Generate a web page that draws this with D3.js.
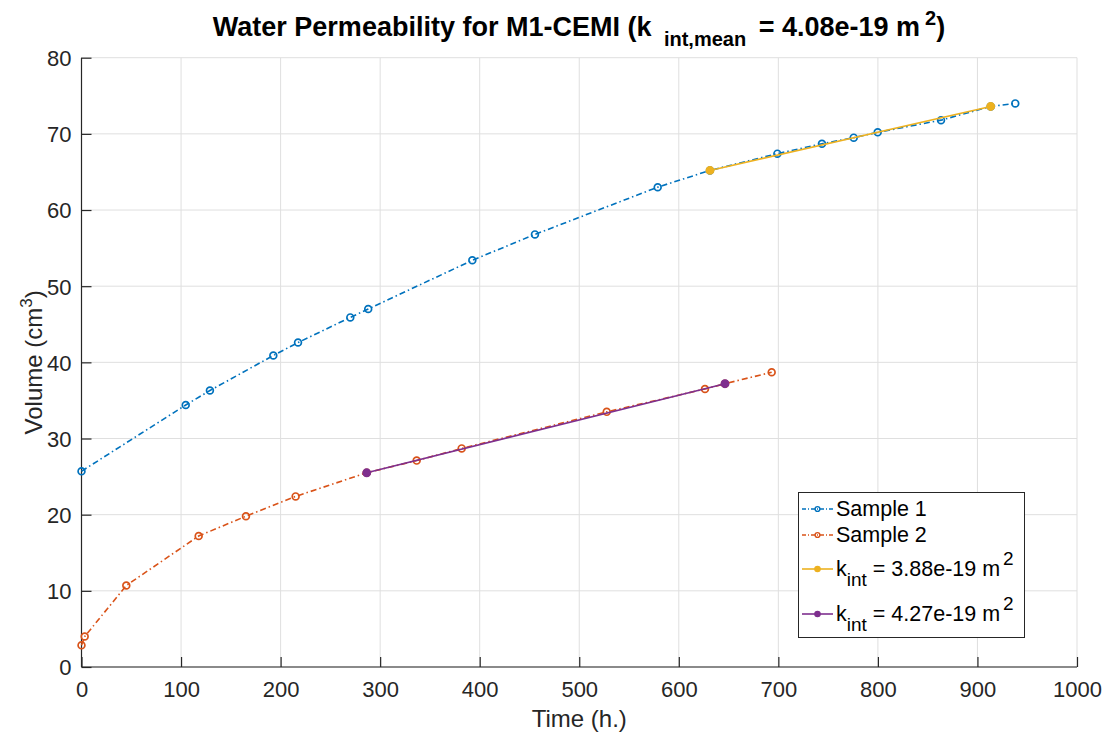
<!DOCTYPE html>
<html><head><meta charset="utf-8">
<script src="https://cdn.jsdelivr.net/npm/d3@7"></script>
<style>body{margin:0;background:#fff;}svg{display:block;font-family:"Liberation Sans",Arial,sans-serif;}</style>
</head><body>
<svg id="c" width="1112" height="738"></svg>
<script>
const s1Time = [0,104.7,129,192.7,217.5,270,288,392.6,455.5,578.8,631.3,699,743.8,775.7,799.8,863.4,913.3,938];
const s1Vol  = [25.7,34.4,36.3,40.9,42.6,45.9,47.0,53.4,56.8,63.0,65.2,67.4,68.7,69.5,70.2,71.8,73.6,74.0];
const s2Time = [0,3.2,45,117.7,165.2,215.1,286.5,336.7,381.9,527.6,626.3,646.4,693.3];
const s2Vol  = [2.85,4.0,10.7,17.2,19.8,22.4,25.5,27.1,28.7,33.5,36.5,37.2,38.7];
const fit1Time = [631.3,913.3];
const fit1Vol  = [65.2,73.6];
const fit2Time = [286.5,646.4];
const fit2Vol  = [25.5,37.2];
const xTicks = [0,100,200,300,400,500,600,700,800,900,1000];
const yTicks = [0,10,20,30,40,50,60,70,80];

const svg = d3.select("#c");
const L=81.5, R=1077, T=57.7, B=667;
const x = d3.scaleLinear().domain([0,1000]).range([L,R]);
const y = d3.scaleLinear().domain([0,80]).range([B,T]);
const ink="#262626", grid="#dfdfdf";

// grid
svg.append("g").selectAll("line").data(xTicks).join("line")
  .attr("x1",d=>x(d)).attr("x2",d=>x(d)).attr("y1",T).attr("y2",B)
  .attr("stroke",grid).attr("stroke-width",1);
svg.append("g").selectAll("line").data(yTicks).join("line")
  .attr("x1",L).attr("x2",R).attr("y1",d=>y(d)).attr("y2",d=>y(d))
  .attr("stroke",grid).attr("stroke-width",1);

// axes
const xa = d3.axisBottom(x).tickValues(xTicks).tickSize(-10).tickPadding(14).tickFormat(d3.format("d"));
const ya = d3.axisLeft(y).tickValues(yTicks).tickSize(-10).tickPadding(10).tickFormat(d3.format("d"));
const gx = svg.append("g").attr("transform",`translate(0,${B})`).call(xa);
const gy = svg.append("g").attr("transform",`translate(${L},0)`).call(ya);
[gx,gy].forEach(g=>{
  g.select(".domain").attr("stroke",ink).attr("stroke-width",1.2).attr("d", g===gx?`M${L},0H${R}`:`M0,${T}V${B}`);
  g.selectAll(".tick line").attr("stroke",ink).attr("stroke-width",1.2);
  g.selectAll(".tick text").attr("fill",ink).attr("font-size",22).attr("font-family","Liberation Sans, Arial, sans-serif");
});
gy.selectAll(".tick text").attr("dy","0.36em");

// lines
const line = d3.line().x(d=>x(d[0])).y(d=>y(d[1]));
function series(tx,vy,color,dash,filled){
  const pts = tx.map((t,i)=>[t,vy[i]]);
  svg.append("path").datum(pts).attr("d",line).attr("fill","none")
    .attr("stroke",color).attr("stroke-width",1.6).attr("stroke-dasharray",dash);
  svg.append("g").selectAll("circle").data(pts).join("circle")
    .attr("cx",d=>x(d[0])).attr("cy",d=>y(d[1])).attr("r",filled?3.6:3.4)
    .attr("fill",filled?color:"none").attr("stroke",color).attr("stroke-width",1.7);
}
const dashDot = "6,3,1.5,3";
series(s1Time,s1Vol,"#0072BD",dashDot,false);
series(s2Time,s2Vol,"#D95319",dashDot,false);
series(fit1Time,fit1Vol,"#EDB120",null,true);
series(fit2Time,fit2Vol,"#7E2F8E",null,true);

// title
const title = svg.append("text").attr("x",579).attr("y",36).attr("text-anchor","middle")
  .attr("font-weight","bold").attr("font-size",27).attr("fill","#000");
title.append("tspan").text("Water Permeability for M1-CEMI (k ");
title.append("tspan").attr("font-size",20).attr("dx",5).attr("dy",10).text("int,mean");
title.append("tspan").attr("dx",5).attr("dy",-10).text(" = 4.08e-19 m");
title.append("tspan").attr("font-size",20).attr("dx",5).attr("dy",-11).text("2");
title.append("tspan").attr("dy",11).text(")");

// axis labels
svg.append("text").attr("x",x(500)).attr("y",727).attr("text-anchor","middle")
  .attr("font-size",24).attr("fill",ink).text("Time (h.)");
const yl = svg.append("text").attr("transform",`translate(42,${(T+B)/2}) rotate(-90)`)
  .attr("text-anchor","middle").attr("font-size",24).attr("fill",ink);
yl.append("tspan").text("Volume (cm");
yl.append("tspan").attr("font-size",17).attr("dy",-10).text("3");
yl.append("tspan").attr("dy",10).text(")");

// legend
const lg = svg.append("g");
lg.append("rect").attr("x",798.5).attr("y",492.5).attr("width",226).attr("height",145)
  .attr("fill","#fff").attr("stroke","#262626").attr("stroke-width",1);
const items = [
  {label:["Sample 1"],color:"#0072BD",dash:"4,2,1,2",filled:false,yy:509},
  {label:["Sample 2"],color:"#D95319",dash:"4,2,1,2",filled:false,yy:535},
  {label:["k","int"," = 3.88e-19 m","2"],color:"#EDB120",dash:null,filled:true,yy:569},
  {label:["k","int"," = 4.27e-19 m","2"],color:"#7E2F8E",dash:null,filled:true,yy:614}
];
items.forEach(it=>{
  lg.append("line").attr("x1",802).attr("x2",833).attr("y1",it.yy).attr("y2",it.yy)
    .attr("stroke",it.color).attr("stroke-width",1.6).attr("stroke-dasharray",it.dash);
  lg.append("circle").attr("cx",817.5).attr("cy",it.yy).attr("r",it.filled?2.6:2.4)
    .attr("fill",it.filled?it.color:"none").attr("stroke",it.color).attr("stroke-width",1.4);
  const t = lg.append("text").attr("x",836).attr("y",it.yy+7).attr("font-size",21.5).attr("fill","#000");
  if(it.label.length===1){ t.text(it.label[0]); }
  else {
    t.append("tspan").text(it.label[0]);
    t.append("tspan").attr("font-size",19).attr("dy",10).text(it.label[1]);
    t.append("tspan").attr("dy",-10).text(it.label[2]);
    t.append("tspan").attr("font-size",19).attr("dx",3).attr("dy",-11).text(it.label[3]);
  }
});
</script>
</body></html>
